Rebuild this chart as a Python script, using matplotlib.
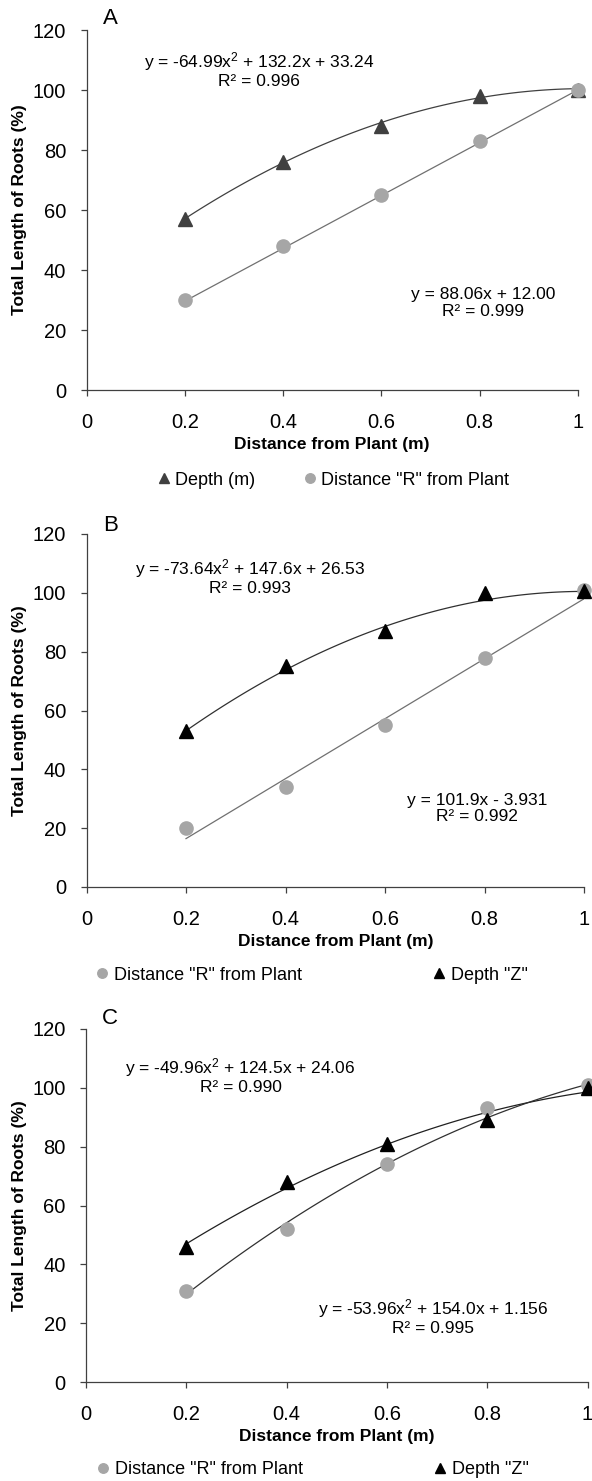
import numpy as np
from matplotlib import pyplot as plt

plt.rcParams['font.family'] = ['Liberation Sans', 'DejaVu Sans']
plt.rcParams['mathtext.fontset'] = 'custom'
plt.rcParams['mathtext.rm'] = 'Liberation Sans'
plt.rcParams['mathtext.it'] = 'Liberation Sans'

x_pos = [0.2, 0.4, 0.6, 0.8, 1.0]

# panel A
a_depth = [57, 76, 88, 98, 100]
a_dist = [30, 48, 65, 83, 100]
a_depth_fit = [-64.99, 132.2, 33.24]
a_dist_fit = [88.06, 12.00]

# panel B
b_dist = [20, 34, 55, 78, 101]
b_depth = [53, 75, 87, 100, 100.5]
b_depth_fit = [-73.64, 147.6, 26.53]
b_dist_fit = [101.9, -3.931]

# panel C
c_dist = [31, 52, 74, 93, 101]
c_depth = [46, 68, 81, 89, 100]
c_depth_fit = [-49.96, 124.5, 24.06]
c_dist_fit = [-53.96, 154.0, 1.156]

x_ticks = [0, 0.2, 0.4, 0.6, 0.8, 1]
x_ticklabels = ['0', '0.2', '0.4', '0.6', '0.8', '1']
y_ticks = [0, 20, 40, 60, 80, 100, 120]

W, H = 592, 1481
fig = plt.figure(figsize=(W / 100, H / 100), dpi=100)


def make_ax(top, bottom, left, right):
    return fig.add_axes([left / W, 1 - bottom / H, (right - left) / W, (bottom - top) / H])


def style(ax, letter, lx, ly):
    ax.set_xlim(0, 1)
    ax.set_ylim(0, 120)
    ax.set_xticks(x_ticks)
    ax.set_xticklabels(x_ticklabels)
    ax.set_yticks(y_ticks)
    for s in ['top', 'right']:
        ax.spines[s].set_visible(False)
    for s in ['left', 'bottom']:
        ax.spines[s].set_color('#404040')
        ax.spines[s].set_linewidth(0.9)
    ax.tick_params(direction='out', length=4.5, width=0.9, color='#404040',
                   labelsize=14.5)
    ax.tick_params(axis='y', pad=10)
    ax.tick_params(axis='x', pad=12)
    ax.set_xlabel('Distance from Plant (m)', fontsize=12.5, fontweight='bold', labelpad=4)
    ax.set_ylabel('Total Length of Roots (%)', fontsize=12.5, fontweight='bold', labelpad=4)
    fig.text(lx / W, 1 - ly / H, letter, fontsize=16, ha='center', va='center')


def legend(ax, cx, cy, spacing):
    ax.legend(loc='center', bbox_to_anchor=(cx / W, 1 - cy / H), bbox_transform=fig.transFigure,
              ncol=2, frameon=False, fontsize=13, handlelength=0.8, handletextpad=0.25,
              columnspacing=spacing, markerscale=0.72, borderpad=0)


def eq(ax, x, y, s):
    ax.text(x, y, s, ha='center', va='center', fontsize=12.5, linespacing=1.1)


xs = np.linspace(0.2, 1.0, 100)
tri = dict(marker='^', linestyle='none', markersize=10.5, clip_on=False, zorder=3)
cir = dict(marker='o', linestyle='none', markersize=9.5, clip_on=False, zorder=3)
light = '#a6a6a6'

# ---- A
ax = make_ax(30, 390, 86.5, 578)
ax.plot(xs, np.polyval(a_depth_fit, xs), color='#404040', lw=0.9)
ax.plot(xs, np.polyval(a_dist_fit, xs), color='#707070', lw=0.9)
ax.plot(x_pos, a_depth, color='#404040', label='Depth (m)', **tri)
ax.plot(x_pos, a_dist, color=light, label='Distance "R" from Plant', **cir)
eq(ax, 0.351, 106.7, 'y = -64.99x$^2$ + 132.2x + 33.24\nR² = 0.996')
eq(ax, 0.807, 29, 'y = 88.06x + 12.00\nR² = 0.999')
style(ax, 'A', 110, 18)
legend(ax, 333, 480, 2.6)

# ---- B
ax = make_ax(534, 887, 86.5, 584)
ax.plot(xs, np.polyval(b_depth_fit, xs), color='#303030', lw=0.9)
ax.plot(xs, np.polyval(b_dist_fit, xs), color='#707070', lw=0.9)
ax.plot(x_pos, b_dist, color=light, label='Distance "R" from Plant', **cir)
ax.plot(x_pos, b_depth, color='black', label='Depth "Z"', **tri)
eq(ax, 0.329, 105.5, 'y = -73.64x$^2$ + 147.6x + 26.53\nR² = 0.993')
eq(ax, 0.785, 26.8, 'y = 101.9x - 3.931\nR² = 0.992')
style(ax, 'B', 111, 525)
legend(ax, 311, 975, 7.2)

# ---- C
ax = make_ax(1029, 1382, 86, 587.5)
ax.plot(xs, np.polyval(c_depth_fit, xs), color='#202020', lw=0.9)
ax.plot(xs, np.polyval(c_dist_fit, xs), color='#303030', lw=0.9)
ax.plot(x_pos, c_dist, color=light, label='Distance "R" from Plant', **cir)
ax.plot(x_pos, c_depth, color='black', label='Depth "Z"', **tri)
eq(ax, 0.308, 104.2, 'y = -49.96x$^2$ + 124.5x + 24.06\nR² = 0.990')
eq(ax, 0.692, 22.2, 'y = -53.96x$^2$ + 154.0x + 1.156\nR² = 0.995')
style(ax, 'C', 110, 1019)
legend(ax, 312, 1470, 7.2)

fig.savefig('out.png', dpi=100)
